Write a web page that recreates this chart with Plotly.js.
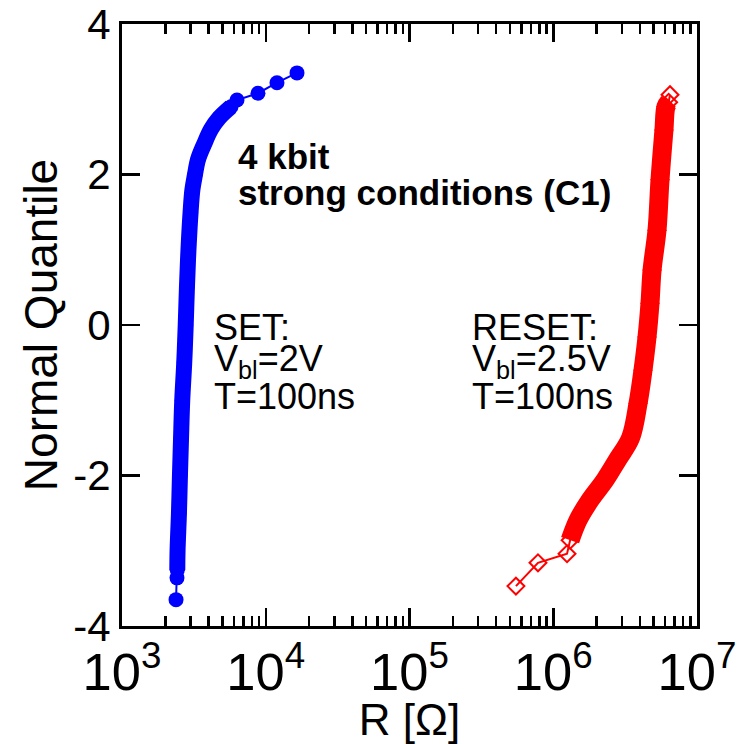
<!DOCTYPE html>
<html>
<head>
<meta charset="utf-8">
<script src="https://cdn.plot.ly/plotly-3.0.1.min.js"></script>
<style>html,body{margin:0;padding:0;background:#fff;}#chart{width:740px;height:744px;}</style>
</head>
<body>
<div id="chart"></div>
<script>
// SET distribution (blue): normal quantile vs resistance [ohm]
const setQ = [-3.65, -3.36, -3.26, -3.0, -2.5, -2.0, -1.5, -1.0, -0.5, 0, 0.5, 1.0, 1.5, 1.8, 2.0, 2.2, 2.4, 2.6, 2.75, 2.9, 2.99, 3.08, 3.22, 3.35];
const setR = [2376, 2413, 2425, 2435, 2490, 2530, 2575, 2625, 2710, 2775, 2830, 2900, 3000, 3090, 3220, 3380, 3720, 4160, 4730, 5730, 6310, 8830, 11970, 16500];
// RESET distribution (red)
const resetQ = [-3.47, -3.16, -3.04, -2.86, -2.59, -2.33, -2.06, -1.79, -1.5, -1.04, -0.6, -0.16, 0.29, 0.73, 1.26, 1.93, 2.59, 2.9, 2.96, 3.06];
const resetR = [5.5e5, 7.83e5, 1.247e6, 1.31e6, 1.49e6, 1.80e6, 2.29e6, 2.80e6, 3.45e6, 3.89e6, 4.21e6, 4.49e6, 4.71e6, 4.87e6, 5.27e6, 5.53e6, 5.89e6, 6.08e6, 6.35e6, 6.49e6];
const yTicks = [-4, -2, 0, 2, 4];
// dense (overlapping-marker) sections of each distribution
const setDense = [2, 19];
const resetDense = [3, 18];

const FONT = 'Liberation Sans, Arial, Helvetica, sans-serif';
const blue = '#0000ff', red = '#ff0000';

const traces = [
  {x: setR.slice(setDense[0], setDense[1] + 1), y: setQ.slice(setDense[0], setDense[1] + 1),
   mode: 'lines', line: {color: blue, width: 16, shape: 'spline'}, hoverinfo: 'skip'},
  {x: setR, y: setQ, mode: 'lines+markers',
   line: {color: blue, width: 2}, marker: {symbol: 'circle', size: 15, color: blue}},
  {x: resetR.slice(resetDense[0], resetDense[1] + 1), y: resetQ.slice(resetDense[0], resetDense[1] + 1),
   mode: 'lines', line: {color: red, width: 19, shape: 'spline'}, hoverinfo: 'skip'},
  {x: resetR, y: resetQ, mode: 'lines+markers',
   line: {color: red, width: 2},
   marker: {symbol: 'diamond-open', size: 13, color: red, line: {color: red, width: 2}}}
];

const L = 122, R = 697, T = 24, B = 626;
const px = v => (v - L) / (R - L);
const py = v => (B - v) / (B - T);

function ann(text, x, y, size, bold) {
  return {text: bold ? '<b>' + text + '</b>' : text, xref: 'paper', yref: 'paper',
    x: px(x), y: py(y), xanchor: 'left', yanchor: 'middle', showarrow: false,
    font: {family: FONT, size: size, color: '#000'}};
}

const layout = {
  width: 740, height: 744,
  margin: {l: L, r: 740 - R, t: T, b: 744 - B},
  paper_bgcolor: '#fff', plot_bgcolor: '#fff',
  showlegend: false,
  font: {family: FONT, color: '#000'},
  xaxis: {
    type: 'log', range: [3, 7], dtick: 1, exponentformat: 'power',
    showline: true, linewidth: 3, linecolor: '#000', mirror: 'ticks',
    ticks: 'inside', ticklen: 18, tickwidth: 2.5, tickcolor: '#000',
    showgrid: false, zeroline: false,
    tickfont: {family: FONT, size: 42, color: '#000'},
    minor: {ticks: 'inside', ticklen: 10, tickwidth: 2.5, tickcolor: '#000', dtick: 'D1', showgrid: false},
    title: {text: 'R [Ω]', font: {family: FONT, size: 44, color: '#000'}, standoff: 9}
  },
  yaxis: {
    range: [-4, 4], tickvals: yTicks, ticktext: yTicks.map(String),
    showline: true, linewidth: 3, linecolor: '#000', mirror: 'ticks',
    ticks: 'inside', ticklen: 18, tickwidth: 2.5, tickcolor: '#000',
    showgrid: false, zeroline: false,
    tickfont: {family: FONT, size: 42, color: '#000'},
    title: {text: 'Normal Quantile', font: {family: FONT, size: 46, color: '#000'}, standoff: 2}
  },
  annotations: [
    ann('4 kbit', 236, 157, 35, true),
    ann('strong conditions (C1)', 236, 192, 35, true),
    ann('SET:', 212, 327, 36, false),
    ann('V<sub>bl</sub>=2V', 212, 361, 36, false),
    ann('T=100ns', 212, 396, 36, false),
    ann('RESET:', 470, 327, 36, false),
    ann('V<sub>bl</sub>=2.5V', 470, 361, 36, false),
    ann('T=100ns', 470, 396, 36, false)
  ]
};

Plotly.newPlot('chart', traces, layout, {displayModeBar: false, staticPlot: true});
</script>
</body>
</html>
